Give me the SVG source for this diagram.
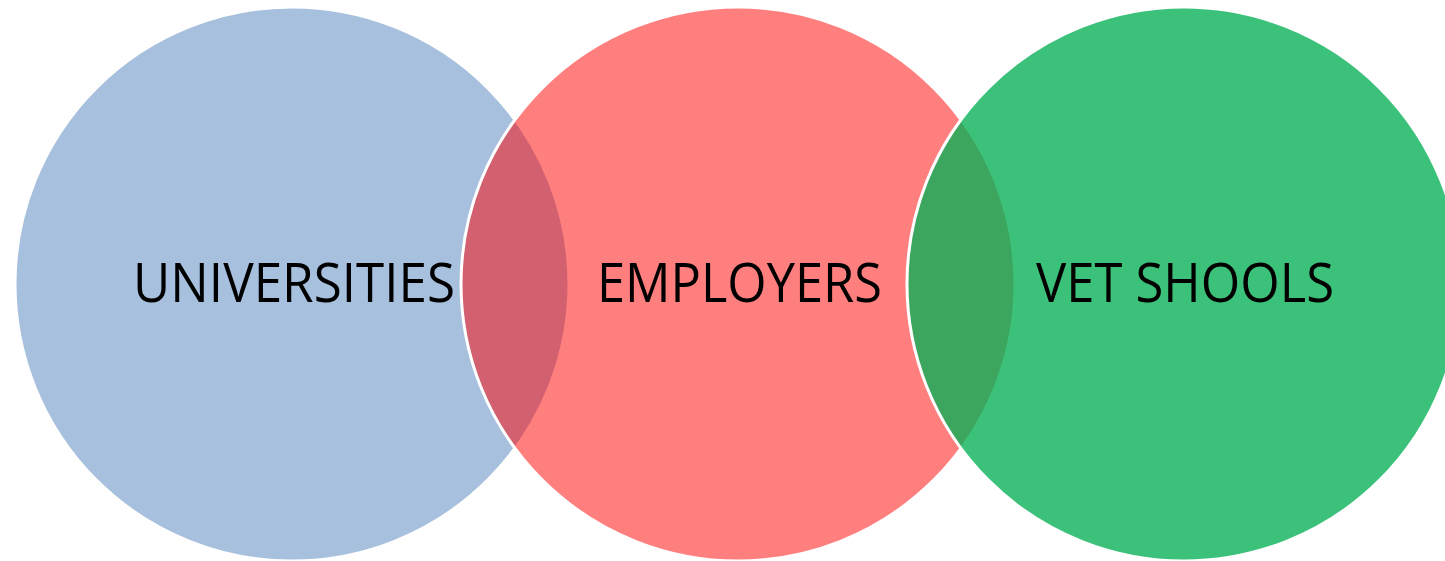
<svg xmlns="http://www.w3.org/2000/svg" width="1445" height="561" viewBox="0 0 1445 561">
<style>
.c{stroke:#ffffff;stroke-width:3}
.t{font-family:"Open Sans","Noto Sans","Liberation Sans",sans-serif;font-size:54px;fill:#000000;text-anchor:middle}
</style>
<rect width="1445" height="561" fill="#ffffff"/>
<g id="universities">
<circle class="c" cx="292" cy="284" r="277" fill="#A7C0DE"/>
<text class="t" x="294" y="302" textLength="322" lengthAdjust="spacingAndGlyphs">UNIVERSITIES</text>
</g>
<g id="employers">
<circle class="c" cx="738" cy="284" r="277" fill="#FF0000" fill-opacity="0.5"/>
<text class="t" x="739.5" y="302" textLength="285" lengthAdjust="spacingAndGlyphs">EMPLOYERS</text>
</g>
<g id="vet-shools">
<circle class="c" cx="1184" cy="284" r="277" fill="#05B055" fill-opacity="0.78"/>
<text class="t" x="1185" y="302" textLength="298" lengthAdjust="spacingAndGlyphs">VET SHOOLS</text>
</g>
<g id="connectors"></g>
</svg>
